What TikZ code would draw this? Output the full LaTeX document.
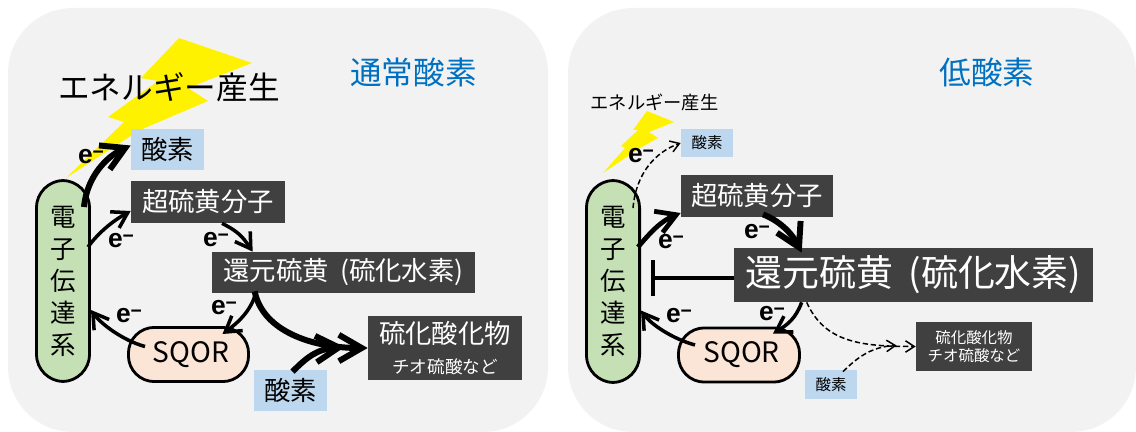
\documentclass[tikz,border=0pt]{standalone}
\usepackage{fontspec}
\setmainfont{Noto Sans CJK JP}
\newfontfamily\latinbold{Liberation Sans}[BoldFont={Liberation Sans Bold}]
\usetikzlibrary{calc}
\usetikzlibrary{arrows.meta}
\definecolor{panelgray}{HTML}{F2F2F2}
\definecolor{darkbox}{HTML}{404040}
\definecolor{oxblue}{HTML}{BDD7EE}
\definecolor{etcgreen}{HTML}{C5E0B4}
\definecolor{sqorpink}{HTML}{FBE5D6}
\definecolor{titleblue}{HTML}{0070C0}
\newcommand{\elec}{{\latinbold\bfseries e\raisebox{.42ex}{\fontsize{11}{11}\selectfont −}}}
\tikzset{
  panel/.style={fill=panelgray, rounded corners=1.3cm},
  bolt/.style={fill=yellow},
  box/.style={rectangle, inner sep=0pt, align=center},
  dark/.style={box, fill=darkbox, text=white},
  oxy/.style={box, fill=oxblue, text=black},
  etc/.style={box, draw=black, line width=1.6pt, fill=etcgreen, rounded corners=.55cm, minimum width=1.12cm-1.6pt, minimum height=4.08cm-1.6pt},
  sqor/.style={box, draw=black, line width=1.6pt, fill=sqorpink, rounded corners=.52cm, minimum width=2.46cm-1.6pt, minimum height=1.14cm-1.6pt},
  elabel/.style={inner sep=0pt, font=\fontsize{15}{15}\selectfont},
  fat/.style={line width=3.4pt, -{Straight Barb[length=13pt,width=15pt]}},
  mid/.style={line width=2pt, -{Straight Barb[length=8.5pt,width=10.5pt]}},
  semi/.style={line width=2.7pt, -{Straight Barb[length=11pt,width=13pt]}},
  faint/.style={line width=.85pt, dashed, dash pattern=on 3pt off 1.6pt, -{Straight Barb[length=5pt,width=6.5pt]}},
  stopline/.style={line width=2pt, -{Bar[width=21pt]}},
}
\begin{document}
\begin{tikzpicture}[x=.02cm, y=-.02cm]
\useasboundingbox (0,0) rectangle (1136,432);
\fill[panel] (8,8) rectangle (548,432);
\fill[panel] (568,8) rectangle (1136,432);

\fill[bolt] (179,38)--(252,63)--(188,88)--(208,101)--(140,130)--(66,178)--(124,122)--(108,117)--(158,81)--(141,78)--cycle;
\fill[bolt] (647,111)--(674,122)--(649,132)--(658,138)--(640,148)--(603,173)--(625,148)--(621,146)--(638,130)--(633,130)--cycle;

\node[font=\fontsize{18}{18}\selectfont, text=titleblue] (titleL) at (413.5,72) {通常酸素};
\node[font=\fontsize{18}{18}\selectfont, text=titleblue] (titleR) at (987,72) {低酸素};
\node[font=\fontsize{18}{18}\selectfont] (energyL) at (169,87) {エネルギー産生};
\node[font=\fontsize{10.4}{10.4}\selectfont] (energyR) at (654.5,102) {エネルギー産生};

% normal oxygen
\node[oxy, minimum width=1.46cm, minimum height=.82cm, font=\fontsize{15}{15}\selectfont] (oxA) at (167.5,149.5) {酸素};
\node[dark, minimum width=3.08cm, minimum height=.84cm, font=\fontsize{15}{15}\selectfont] (superA) at (208,202) {超硫黄分子};
\node[dark, minimum width=5.26cm, minimum height=.82cm, font=\fontsize{15}{15}\selectfont] (redA) at (343.5,272.5) {還元硫黄\hspace{3pt} (硫化水素)};
\node[dark, minimum width=3.08cm, minimum height=1.28cm, font=\fontsize{15}{18}\selectfont] (sulfA) at (445,348) {硫化酸化物\\[-1pt]{\fontsize{10}{12}\selectfont チオ硫酸など}};
\node[oxy, minimum width=1.46cm, minimum height=.82cm, font=\fontsize{15}{15}\selectfont] (oxB) at (290.5,390.5) {酸素};
\node[sqor, font=\fontsize{16}{16}\selectfont] (sqorA) at (188.5,354.5) {\hspace*{3pt}SQOR};
\node[etc, font=\fontsize{14.5}{18.2}\selectfont] (etcA) at (63,281) {電\\子\\伝\\達\\系};

\draw[fat] ($(etcA.north east)+(-7,28)$) .. controls +(3,-32) and +(-22,10) .. ($(oxA.west)+(0,-4)$);
\draw[mid] ($(etcA.north east)+(-3,68)$) .. controls +(10,-14) and +(-18,10) .. ($(superA.west)+(0,9)$);
\draw[mid] ($(superA.south)+(14,0)$) .. controls +(16,8) and +(-10,-15) .. ($(redA.north west)+(41,0)$);
\draw[mid] ($(redA.south west)+(44,0)$) .. controls +(-5,18) and +(15,-11) .. ($(sqorA.north)+(34,8)$);
\draw[mid] ($(sqorA.west)+(18,-8)$) .. controls +(-22,-6) and +(10,14) .. ($(etcA.east)+(0,29)$);
\draw[fat] ($(redA.south west)+(43,-2)$) .. controls +(8,40) and +(-55,0) .. (sulfA.west);
\draw[fat] ($(oxB.north)+(2,2)$) .. controls +(14,-14) and +(-28,2) .. ($(sulfA.west)+(-23,-1)$);

\node[elabel] (eA1) at (91,157) {\elec};
\node[elabel] (eA2) at (121,241) {\elec};
\node[elabel] (eA3) at (216,240) {\elec};
\node[elabel] (eA4) at (224,308) {\elec};
\node[elabel] (eA5) at (129,316) {\elec};

% low oxygen
\node[oxy, minimum width=1.04cm, minimum height=.56cm, font=\fontsize{8.8}{8.8}\selectfont] (oxC) at (707,143) {酸素};
\node[dark, minimum width=3.04cm, minimum height=.84cm, font=\fontsize{15}{15}\selectfont] (superC) at (757,196) {超硫黄分子};
\node[dark, minimum width=7.18cm, minimum height=1.08cm, font=\fontsize{21}{21}\selectfont] (redC) at (913.5,275) {還元硫黄\hspace{4pt} (硫化水素)};
\node[dark, minimum width=2.32cm, minimum height=.98cm, font=\fontsize{8.8}{10.6}\selectfont] (sulfC) at (974,346.5) {硫化酸化物\\チオ硫酸など};
\node[oxy, minimum width=1.04cm, minimum height=.58cm, font=\fontsize{8.8}{8.8}\selectfont] (oxD) at (831,384.5) {酸素};
\node[sqor, minimum width=2.48cm-1.6pt, font=\fontsize{16}{16}\selectfont] (sqorC) at (739,355) {\hspace*{3pt}SQOR};
\node[etc, minimum height=4.1cm-1.6pt, font=\fontsize{14.5}{18.2}\selectfont] (etcC) at (613,281.5) {電\\子\\伝\\達\\系};
\coordinate (stopC) at (651,278);

\draw[faint] ($(etcC.north east)+(-8,29)$) .. controls +(3,-35) and +(-25,9) .. (oxC.west);
\draw[semi] ($(etcC.north east)+(-3,68)$) .. controls +(12,-14) and +(-20,8) .. ($(superC.west)+(0,17)$);
\draw[fat] ($(superC.south)+(6,-3)$) .. controls +(20,8) and +(-8,-16) .. ($(redC.north west)+(68,5)$);
\draw[mid] ($(redC.south west)+(68,0)$) .. controls +(-6,16) and +(15,-9) .. ($(sqorC.north)+(34,7)$);
\draw[mid] ($(sqorC.west)+(18,-10)$) .. controls +(-22,-6) and +(10,14) .. ($(etcC.east)+(0,29)$);
\draw[faint] ($(redC.south west)+(73,0)$) .. controls +(18,40) and +(-55,0) .. (sulfC.west);
\draw[faint] ($(oxD.north)+(12,2)$) .. controls +(14,-14) and +(-25,1) .. ($(sulfC.west)+(-19,-1)$);
\draw[stopline] (redC.west|-stopC) -- (stopC);

\node[elabel] (eC1) at (641,156) {\elec};
\node[elabel] (eC2) at (671,242) {\elec};
\node[elabel] (eC3) at (757,232) {\elec};
\node[elabel] (eC4) at (772,314) {\elec};
\node[elabel] (eC5) at (679,316) {\elec};
\end{tikzpicture}
\end{document}
